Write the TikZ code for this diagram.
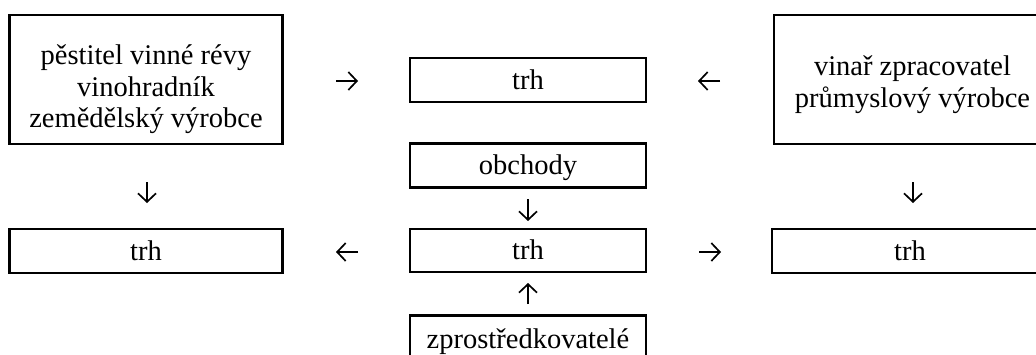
\documentclass[tikz,border=0pt]{standalone}
\usepackage{fontspec}
\setmainfont{Liberation Serif}
\usetikzlibrary{arrows.meta}
\begin{document}
\begin{tikzpicture}[x=1pt,y=-1pt,
  txt/.style={inner sep=0pt, anchor=base,
    font=\fontsize{28.5}{31.5}\selectfont},
  box/.style={draw, line width=2.6pt, inner sep=0pt,
    text height=20pt, text depth=2pt,
    font=\fontsize{28.5}{31.5}\selectfont},
  thinbox/.style={box, line width=1.3pt},
  flow/.style={line width=1.7pt,
    -{Straight Barb[length=8.5pt, width=18pt, line join=miter]}}]
\useasboundingbox (0,0) rectangle (1036,354);
\clip (0,0) rectangle (1036,354);
% producers
\node[box, minimum width=273, minimum height=129] (grower) at (146,79.5) {};
\node[txt] (grower1) at (146,64)    {pěstitel vinné révy};
\node[txt] (grower2) at (146,96)    {vinohradník};
\node[txt] (grower3) at (146,127.5) {zemědělský výrobce};
\node[box, minimum width=277, minimum height=129] (maker) at (912.5,79.5) {};
\node[txt] (maker1) at (912.5,75)  {vinař zpracovatel};
\node[txt] (maker2) at (912.5,107) {průmyslový výrobce};
% central column
\node[box, minimum width=236, minimum height=44] (mtop) at (528,80) {trh};
\node[box, minimum width=236, minimum height=44] (shops) at (528,165.5) {obchody};
\node[thinbox, minimum width=236, minimum height=43] (mmid) at (528,250.5) {trh};
\node[box, minimum width=236, minimum height=70, anchor=north] (agents) at (528,314) {};
\node[txt] (agentstext) at (528,348) {zprostředkovatelé};
% side markets
\node[box, minimum width=273, minimum height=44] (mleft) at (146,251) {trh};
\node[box, minimum width=276, minimum height=44] (mright) at (910,251) {trh};
% arrows between the blocks
\coordinate (a1s) at (336,81);  \coordinate (a1e) at (358,81);
\coordinate (a2s) at (720,81);  \coordinate (a2e) at (698,81);
\coordinate (a3s) at (147,182); \coordinate (a3e) at (147,203);
\coordinate (a4s) at (913,182); \coordinate (a4e) at (913,203);
\coordinate (a5s) at (528,199); \coordinate (a5e) at (528,221);
\coordinate (a6s) at (528,304); \coordinate (a6e) at (528,283);
\coordinate (a7s) at (358,252); \coordinate (a7e) at (336,252);
\coordinate (a8s) at (699,252); \coordinate (a8e) at (721,252);
\foreach \i in {1,...,8} \draw[flow] (a\i s) -- (a\i e);
\end{tikzpicture}
\end{document}
